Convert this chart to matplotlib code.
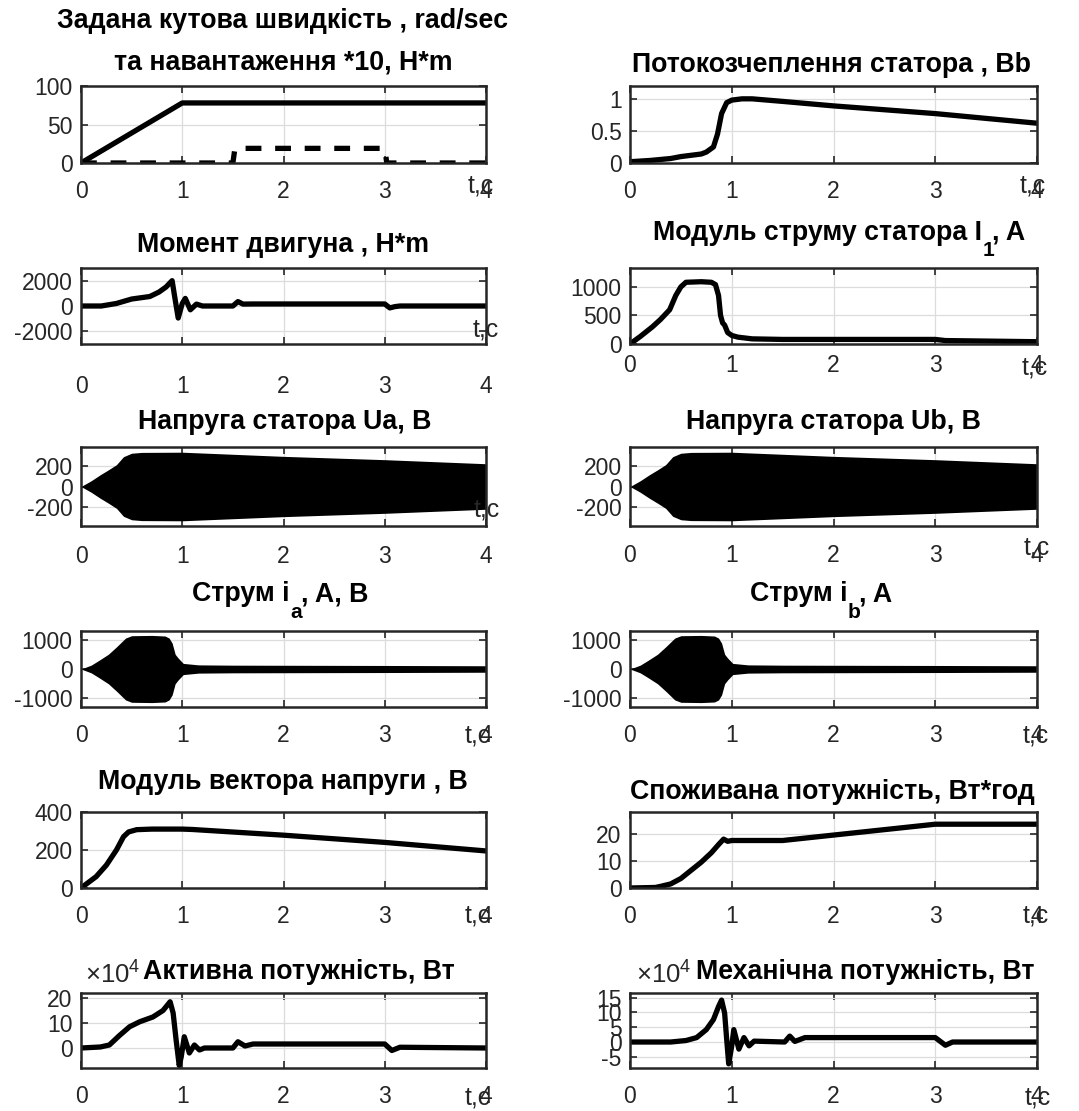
import matplotlib
matplotlib.use("Agg")
import matplotlib.pyplot as plt

# ------------------------------------------
# Data (time in seconds)
# ------------------------------------------
t_speed = [0, 1.0, 4.0]
speed = [0, 78, 78]
t_load = [0, 1.5, 1.52, 3.0, 3.02, 4.0]
load = [0, 0, 19, 19, 0, 0]

t_flux = [0, 0.2, 0.4, 0.5, 0.6, 0.7, 0.75, 0.82, 0.86, 0.9, 0.95, 1.0, 1.1, 1.2, 1.5, 2.0, 3.0, 4.0]
flux = [0.02, 0.04, 0.07, 0.1, 0.12, 0.14, 0.17, 0.25, 0.45, 0.77, 0.94, 0.98, 1.0, 1.0, 0.96, 0.89, 0.77, 0.62]

t_torque = [0, 0.2, 0.35, 0.5, 0.68, 0.77, 0.84, 0.9, 0.93, 0.96, 1.0, 1.03, 1.08, 1.14, 1.2,
            1.5, 1.55, 1.6, 1.7, 3.0, 3.05, 3.1, 3.15, 4.0]
torque = [0, 0, 200, 550, 750, 1100, 1500, 2000, 500, -950, 200, 600, -300, 150, 0,
          0, 350, 150, 160, 160, -150, -50, 0, 0]

t_i1 = [0, 0.1, 0.22, 0.3, 0.39, 0.45, 0.5, 0.55, 0.7, 0.8, 0.84, 0.87, 0.89, 0.91, 0.93,
        0.96, 1.0, 1.06, 1.2, 1.5, 3.0, 3.1, 4.0]
i1 = [0, 130, 300, 430, 600, 850, 1000, 1080, 1090, 1080, 1040, 850, 500, 370, 330,
      200, 150, 120, 90, 80, 80, 60, 40]

# envelopes of the phase voltages (the dense oscillation band)
t_u_env = [0, 0.1, 0.19, 0.27, 0.35, 0.42, 0.5, 0.6, 1.0, 2.0, 3.0, 4.0]
ua_env = [0, 55, 113, 160, 210, 287, 320, 328, 330, 290, 258, 219]
ub_env = [0, 55, 113, 160, 210, 287, 320, 328, 330, 290, 258, 219]

# envelopes of the phase currents
t_i_env = [0, 0.1, 0.18, 0.27, 0.35, 0.44, 0.5, 0.7, 0.83, 0.87, 0.9, 0.93, 0.96, 1.01,
           1.16, 1.5, 3.0, 4.0]
ia_env = [0, 130, 300, 500, 750, 1050, 1130, 1140, 1120, 1050, 880, 500, 370, 190,
          140, 130, 120, 110]
ib_env = [0, 130, 300, 500, 750, 1050, 1130, 1140, 1120, 1050, 880, 500, 370, 190,
          140, 130, 120, 110]

t_umod = [0, 0.05, 0.15, 0.25, 0.35, 0.42, 0.47, 0.55, 0.7, 1.0, 1.1, 1.4, 2.0, 3.0, 4.0]
umod = [0, 20, 60, 120, 200, 270, 295, 307, 310, 310, 308, 298, 278, 240, 195]

t_energy = [0, 0.25, 0.3, 0.4, 0.5, 0.6, 0.7, 0.8, 0.87, 0.92, 0.96, 1.0, 1.5, 3.0, 4.0]
energy = [0, 0.2, 0.6, 1.5, 3.5, 6.5, 9.5, 13, 16, 18, 17.2, 17.5, 17.5, 23.5, 23.5]

t_pact = [0, 0.19, 0.28, 0.38, 0.48, 0.58, 0.71, 0.81, 0.88, 0.91, 0.94, 0.97, 0.99, 1.02,
          1.07, 1.12, 1.17, 1.22, 1.5, 1.55, 1.62, 1.7, 3.0, 3.07, 3.15, 4.0]
pact = [0, 0.4, 1.2, 5, 8.5, 10.5, 12.4, 15, 18.5, 14, 3, -7, -3.5, 4.5,
        -2, 1.2, -0.8, 0, 0, 2.5, 0.8, 1.6, 1.6, -1, 0.3, 0]

t_pmech = [0, 0.4, 0.55, 0.655, 0.75, 0.82, 0.87, 0.9, 0.93, 0.95, 0.97, 1.0, 1.02, 1.07,
           1.12, 1.17, 1.22, 1.52, 1.57, 1.62, 1.72, 3.0, 3.1, 3.17, 4.0]
pmech = [0, 0, 0.5, 1.5, 4.2, 7.6, 12, 14.2, 9.8, 1, -7.4, -1.3, 4.2, -2.4,
         1.5, -1.3, 0.3, 0, 2, 0.2, 1.5, 1.5, -1.1, 0, 0]

# ------------------------------------------
# Style (MATLAB-like)
# ------------------------------------------
plt.rcParams["font.family"] = ["Liberation Sans", "DejaVu Sans"]
plt.rcParams["mathtext.fontset"] = "custom"
plt.rcParams["mathtext.rm"] = "Liberation Sans"
plt.rcParams["axes.unicode_minus"] = False

W, H = 1079, 1111
fig = plt.figure(figsize=(W / 100, H / 100), dpi=100)

LW = 3.8
TICK_FS = 16.5
TITLE_FS = 19.3
AX_COL = "#262626"

cols = [(81, 486), (630, 1037)]
rows = [(86, 163), (268, 344), (447, 526), (631, 707), (812, 888), (993, 1068)]


def make_ax(r, c, ylim, yticks, xpad=12):
    x0, x1 = cols[c]
    y0, y1 = rows[r]
    ax = fig.add_axes([x0 / W, 1 - y1 / H, (x1 - x0) / W, (y1 - y0) / H])
    ax.set_xlim(0, 4)
    ax.set_ylim(*ylim)
    ax.set_xticks([0, 1, 2, 3, 4])
    ax.set_yticks(yticks)
    ax.grid(True, color="#dcdcdc", lw=0.9)
    ax.set_axisbelow(True)
    ax.tick_params(direction="in", top=True, right=True, length=5, width=1.2,
                   colors=AX_COL, labelsize=TICK_FS)
    ax.tick_params(axis="x", pad=xpad)
    ax.tick_params(axis="y", pad=6)
    for s in ax.spines.values():
        s.set_linewidth(1.8)
        s.set_color(AX_COL)
    return ax


def ftext(x, y, s, ha="center", **kw):
    fig.text(x / W, 1 - y / H, s, ha=ha, va="center", **kw)


def title(x, y, s):
    ftext(x, y, s, fontsize=TITLE_FS, fontweight="bold", color="black")


def sub_title(x_sub, y, head, sub, tail, sub_w):
    # title with a lowered subscript, e.g. "Струм i" + "a" + ", A"
    kw = dict(fontsize=TITLE_FS, fontweight="bold", color="black")
    ftext(x_sub, y, head, ha="right", **kw)
    ftext(x_sub + 1, y + 18, sub, ha="left", fontsize=TITLE_FS * 0.78,
          fontweight="bold", color="black")
    ftext(x_sub + sub_w, y, tail, ha="left", **kw)


def tc(x, y):
    ftext(x, y, "t,c", fontsize=TICK_FS + 1.5, color=AX_COL)


# 1 left: speed reference and load
ax = make_ax(0, 0, (0, 100), [0, 50, 100])
ax.plot(t_speed, speed, color="black", lw=LW)
ax.plot(t_load, load, color="black", lw=LW, dashes=(3, 2.6))
title(283, 21, "Задана кутова швидкість , rad/sec")
title(283, 63, "та навантаження *10, H*m")
tc(481, 186)

# 1 right: stator flux
ax = make_ax(0, 1, (0, 1.2), [0, 0.5, 1])
ax.set_yticklabels(["0", "0.5", "1"])
ax.plot(t_flux, flux, color="black", lw=LW)
title(831, 65, "Потокозчеплення статора , Bb")
tc(1033, 186)

# 2 left: motor torque
ax = make_ax(1, 0, (-3000, 3000), [-2000, 0, 2000], xpad=22)
ax.plot(t_torque, torque, color="black", lw=LW)
title(283, 245, "Момент двигуна , H*m")
tc(486, 330)

# 2 right: stator current module
ax = make_ax(1, 1, (0, 1330), [0, 500, 1000], xpad=7)
ax.plot(t_i1, i1, color="black", lw=LW)
sub_title(982, 233, "Модуль струму статора I", "1", ", A", 10)
tc(1035, 367)

# 3: stator voltages
ax = make_ax(2, 0, (-380, 380), [-200, 0, 200], xpad=14)
ax.fill_between(t_u_env, [-v for v in ua_env], ua_env, color="black", lw=0)
title(285, 422, "Напруга статора Ua, B")
tc(487, 510)

ax = make_ax(2, 1, (-380, 380), [-200, 0, 200], xpad=13)
ax.fill_between(t_u_env, [-v for v in ub_env], ub_env, color="black", lw=0)
title(833, 422, "Напруга статора Ub, B")
tc(1037, 548)

# 4: phase currents
ax = make_ax(3, 0, (-1290, 1290), [-1000, 0, 1000])
ax.fill_between(t_i_env, [-v for v in ia_env], ia_env, color="black", lw=0)
sub_title(289, 594, "Струм i", "a", ", A, B", 12)
tc(478, 735)

ax = make_ax(3, 1, (-1290, 1290), [-1000, 0, 1000])
ax.fill_between(t_i_env, [-v for v in ib_env], ib_env, color="black", lw=0)
sub_title(847, 594, "Струм i", "b", ", A", 12)
tc(1036, 735)

# 5 left: voltage vector module
ax = make_ax(4, 0, (0, 400), [0, 200, 400])
ax.plot(t_umod, umod, color="black", lw=LW)
title(283, 782, "Модуль вектора напруги , B")
tc(478, 915)

# 5 right: consumed energy
ax = make_ax(4, 1, (0, 28), [0, 10, 20])
ax.plot(t_energy, energy, color="black", lw=LW)
title(832, 792, "Споживана потужність, Вт*год")
tc(1036, 915)

# 6 left: active power (x10^4)
ax = make_ax(5, 0, (-8, 22), [0, 10, 20])
ax.plot(t_pact, pact, color="black", lw=LW)
title(299, 972, "Активна потужність, Вт")
ftext(113, 974, r"$\times10^{4}$", fontsize=TICK_FS + 2, color=AX_COL)
tc(478, 1097)

# 6 right: mechanical power (x10^4)
ax = make_ax(5, 1, (-8.8, 16.6), [-5, 0, 5, 10, 15])
ax.plot(t_pmech, pmech, color="black", lw=LW)
title(865, 972, "Механічна потужність, Вт")
ftext(664, 974, r"$\times10^{4}$", fontsize=TICK_FS + 2, color=AX_COL)
tc(1038, 1097)

fig.savefig("out.png", dpi=100, facecolor="white")
